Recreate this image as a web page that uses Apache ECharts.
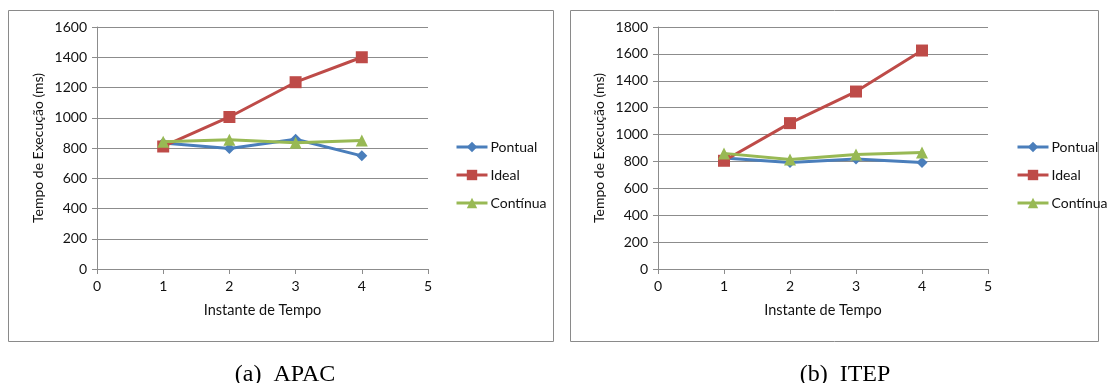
<!DOCTYPE html>
<html>
<head>
<meta charset="utf-8">
<script src="https://cdn.jsdelivr.net/npm/echarts@6/dist/echarts.min.js"></script>
<style>
  html, body { margin: 0; padding: 0; background: #ffffff; }
  #chart { width: 1108px; height: 383px; }
</style>
</head>
<body>
<div id="chart"></div>
<script>
// Time instants (x values)
const instants = [1, 2, 3, 4];
const seriesNames = ['Pontual', 'Ideal', 'Contínua'];

// (a) APAC — execution time (ms)
const apacPontual = [833, 796, 858, 748];
const apacIdeal = [810, 1005, 1235, 1400];
const apacContinua = [842, 855, 835, 850];

// (b) ITEP — execution time (ms)
const itepPontual = [825, 793, 818, 793];
const itepIdeal = [805, 1085, 1320, 1625];
const itepContinua = [860, 815, 852, 867];

const captions = ['(a)  APAC', '(b)  ITEP'];
const yNames = ['Tempo de Execução (ms)', 'Tempo de Execução (ms)'];
const xName = 'Instante de Tempo';

const colors = { Pontual: '#4A7EBB', Ideal: '#BE4B48', 'Contínua': '#98B954' };
const symbols = { Pontual: 'diamond', Ideal: 'rect', 'Contínua': 'triangle' };
const symbolSizes = { Pontual: 11, Ideal: 12, 'Contínua': 12 };

const font = 'Lato, "Open Sans", sans-serif';
const fontSize = 14;
const textColor = '#111111';
const gridColor = '#8c8c8c';

function pairs(ys) { return instants.map((x, i) => [x, ys[i]]); }

const panels = [
  { left: 97, width: 331, yMax: 1600, data: [apacPontual, apacIdeal, apacContinua], frame: [8, 10, 545, 331], legendLeft: 455, caption: 280 },
  { left: 658, width: 330, yMax: 1800, data: [itepPontual, itepIdeal, itepContinua], frame: [570, 10, 528, 331], legendLeft: 1016, caption: 840 }
];

const option = {
  animation: false,
  backgroundColor: '#ffffff',
  textStyle: { fontFamily: font },
  grid: panels.map(p => ({ left: p.left, width: p.width, top: 27, height: 242 })),
  xAxis: panels.map((p, i) => ({
    type: 'value', gridIndex: i, min: 0, max: 5, interval: 1,
    name: xName, nameLocation: 'middle', nameGap: 34,
    nameTextStyle: { fontFamily: font, fontSize: 14.5, color: textColor },
    axisLine: { show: true, onZero: false, lineStyle: { color: gridColor, width: 1 } },
    axisTick: { show: true, length: 5, lineStyle: { color: gridColor } },
    axisLabel: { fontFamily: font, fontSize: fontSize, color: textColor, margin: 10 },
    splitLine: { show: false }
  })),
  yAxis: panels.map((p, i) => ({
    type: 'value', gridIndex: i, min: 0, max: p.yMax, interval: 200,
    name: yNames[i], nameLocation: 'middle', nameGap: 52, nameRotate: 90,
    nameTextStyle: { fontFamily: font, fontSize: fontSize, color: textColor },
    axisLine: { show: true, lineStyle: { color: gridColor, width: 1 } },
    axisTick: { show: true, length: 5, lineStyle: { color: gridColor } },
    axisLabel: { fontFamily: font, fontSize: fontSize, color: textColor, margin: 10, formatter: v => String(v) },
    splitLine: { show: true, lineStyle: { color: gridColor, width: 1 } }
  })),
  legend: panels.map((p, i) => ({
    orient: 'vertical', left: p.legendLeft, top: 140, padding: 0,
    itemWidth: 31, itemHeight: 13, itemGap: 14,
    lineStyle: { width: 3 },
    textStyle: { fontFamily: font, fontSize: fontSize, color: textColor, padding: [0, 0, 0, -2] },
    data: seriesNames.map(n => ({ name: n + (i ? ' ' : '') }))
  })),
  title: panels.map((p, i) => ({
    text: captions[i], left: p.caption, top: 358, textAlign: 'center',
    textStyle: { fontFamily: '"Liberation Serif", "DejaVu Serif", serif', fontSize: 24, fontWeight: 'normal', color: '#000' }
  })),
  graphic: panels.map(p => ({
    type: 'rect', silent: true, z: -1,
    shape: { x: p.frame[0] + 0.5, y: p.frame[1] + 0.5, width: p.frame[2], height: p.frame[3] },
    style: { fill: '#ffffff', stroke: '#8a8a8a', lineWidth: 1 }
  })),
  series: []
};

panels.forEach((p, i) => {
  seriesNames.forEach((n, k) => {
    option.series.push({
      type: 'line',
      name: n + (i ? ' ' : ''),
      xAxisIndex: i, yAxisIndex: i,
      data: pairs(p.data[k]),
      symbol: symbols[n], symbolSize: symbolSizes[n], showSymbol: true,
      itemStyle: { color: colors[n] },
      lineStyle: { color: colors[n], width: 3 },
      z: 3 + (k === 1 ? 0 : k)
    });
  });
});

const chart = echarts.init(document.getElementById('chart'), null, { renderer: 'canvas' });
chart.setOption(option);
</script>
</body>
</html>
